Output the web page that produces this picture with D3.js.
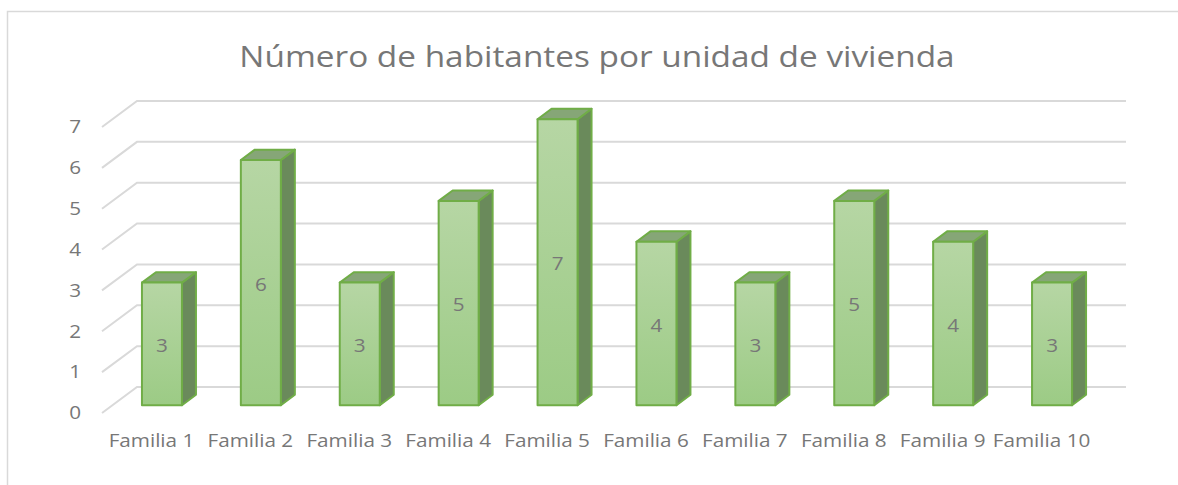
<!DOCTYPE html>
<html>
<head>
<meta charset="utf-8">
<script src="https://cdn.jsdelivr.net/npm/d3@7"></script>
<style>
  body { margin: 0; background: #fff; }
  svg text { font-family: "Open Sans", "Noto Sans", sans-serif; }
</style>
</head>
<body>
<div id="graphicContainer"></div>
<script>

// data

var categories = ["Familia 1", "Familia 2", "Familia 3", "Familia 4", "Familia 5",
  "Familia 6", "Familia 7", "Familia 8", "Familia 9", "Familia 10"];

var values = [3, 6, 3, 5, 7, 4, 3, 5, 4, 3];

var yTicks = [0, 1, 2, 3, 4, 5, 6, 7];

var chartTitle = "Número de habitantes por unidad de vivienda";

function draw_chart() {

  var width = 1178, height = 485;
  var textColour = "#777777";
  // the original font is wider than Open Sans, stretch text a bit
  var stretch = 1.15;

  // oblique 3d: how far the back wall sits from the front
  var depthX = 35, depthY = 26;
  var barDepth = [0.3, 0.7];

  d3.select("#graphicContainer svg").remove();

  var svg = d3.select("#graphicContainer").append("svg")
    .attr("width", width)
    .attr("height", height);

  var defs = svg.append("defs");
  var grad = defs.append("linearGradient")
    .attr("id", "barGrad")
    .attr("x1", 0).attr("y1", 0).attr("x2", 0).attr("y2", 1);
  grad.append("stop").attr("offset", "0%").attr("stop-color", "#b6d6a4");
  grad.append("stop").attr("offset", "100%").attr("stop-color", "#9ccb85");

  // chart frame (only top and left visible in the crop)
  svg.append("path")
    .attr("d", "M7.5,485 L7.5,11.5 L1178,11.5")
    .attr("fill", "none")
    .attr("stroke", "#d9d9d9")
    .attr("stroke-width", 1.5);

  var x = d3.scaleBand()
    .domain(categories)
    .range([102, 1091]);

  var y = d3.scaleLinear()
    .domain([0, 7])
    .range([413, 413 - 7 * 40.86]);

  // project a point at a given depth (0 = front, 1 = back wall)
  function px(xv, d) { return xv + d * depthX; }
  function py(yv, d) { return yv - d * depthY; }

  // gridlines: diagonal on the side wall + horizontal on back wall
  var grid = svg.append("g");
  grid.selectAll("path")
    .data(yTicks)
    .enter()
    .append("path")
    .attr("d", d => "M" + px(x.range()[0], 0) + "," + py(y(d), 0) +
      " L" + px(x.range()[0], 1) + "," + py(y(d), 1) +
      " L" + px(x.range()[1], 1) + "," + py(y(d), 1))
    .attr("fill", "none")
    .attr("stroke", "#d9d9d9")
    .attr("stroke-width", 2);

  // y labels
  svg.append("g")
    .selectAll("text")
    .data(yTicks)
    .enter()
    .append("text")
    .attr("transform", d => `translate(81,${y(d)}) scale(${stretch},1)`)
    .attr("dy", "0.35em")
    .attr("text-anchor", "end")
    .attr("font-size", 18)
    .attr("fill", textColour)
    .text(d => d);

  // bars
  var barW = 40;
  var bars = svg.append("g")
    .selectAll("g")
    .data(categories.map((c, i) => ({cat: c, value: values[i]})))
    .enter()
    .append("g");

  function faces(d) {
    var cx = x(d.cat) + x.bandwidth() / 2;
    var x0 = cx - barW / 2, x1 = cx + barW / 2;
    var d0 = barDepth[0], d1 = barDepth[1];
    var yb = y(0), yt = y(d.value);
    return {
      front: [[px(x0, d0), py(yt, d0)], [px(x1, d0), py(yt, d0)], [px(x1, d0), py(yb, d0)], [px(x0, d0), py(yb, d0)]],
      top: [[px(x0, d0), py(yt, d0)], [px(x0, d1), py(yt, d1)], [px(x1, d1), py(yt, d1)], [px(x1, d0), py(yt, d0)]],
      side: [[px(x1, d0), py(yt, d0)], [px(x1, d1), py(yt, d1)], [px(x1, d1), py(yb, d1)], [px(x1, d0), py(yb, d0)]]
    };
  }

  var line = d3.line();

  bars.append("path")
    .attr("d", d => line(faces(d).side) + "Z")
    .attr("fill", "#6a8a5b")
    .attr("stroke", "#70ad47")
    .attr("stroke-width", 2)
    .attr("stroke-linejoin", "round");

  bars.append("path")
    .attr("d", d => line(faces(d).top) + "Z")
    .attr("fill", "#86a677")
    .attr("stroke", "#70ad47")
    .attr("stroke-width", 2)
    .attr("stroke-linejoin", "round");

  bars.append("path")
    .attr("d", d => line(faces(d).front) + "Z")
    .attr("fill", "url(#barGrad)")
    .attr("stroke", "#70ad47")
    .attr("stroke-width", 2)
    .attr("stroke-linejoin", "round");

  // value labels in the middle of the front face
  bars.append("text")
    .attr("transform", d => `translate(${px(x(d.cat) + x.bandwidth() / 2, barDepth[0])},${py((y(0) + y(d.value)) / 2, barDepth[0]) + 2}) scale(${stretch},1)`)
    .attr("dy", "0.35em")
    .attr("text-anchor", "middle")
    .attr("font-size", 18)
    .attr("fill", textColour)
    .text(d => d.value);

  // category labels
  svg.append("g")
    .selectAll("text")
    .data(categories)
    .enter()
    .append("text")
    .attr("transform", d => `translate(${x(d) + x.bandwidth() / 2},441) scale(${stretch},1)`)
    .attr("dy", "0.35em")
    .attr("text-anchor", "middle")
    .attr("font-size", 18)
    .attr("fill", textColour)
    .text(d => d);

  // title
  svg.append("text")
    .attr("transform", `translate(597,57) scale(${stretch},1)`)
    .attr("dy", "0.35em")
    .attr("text-anchor", "middle")
    .attr("font-size", 29)
    .attr("fill", textColour)
    .text(chartTitle);
}

draw_chart();
</script>
</body>
</html>
